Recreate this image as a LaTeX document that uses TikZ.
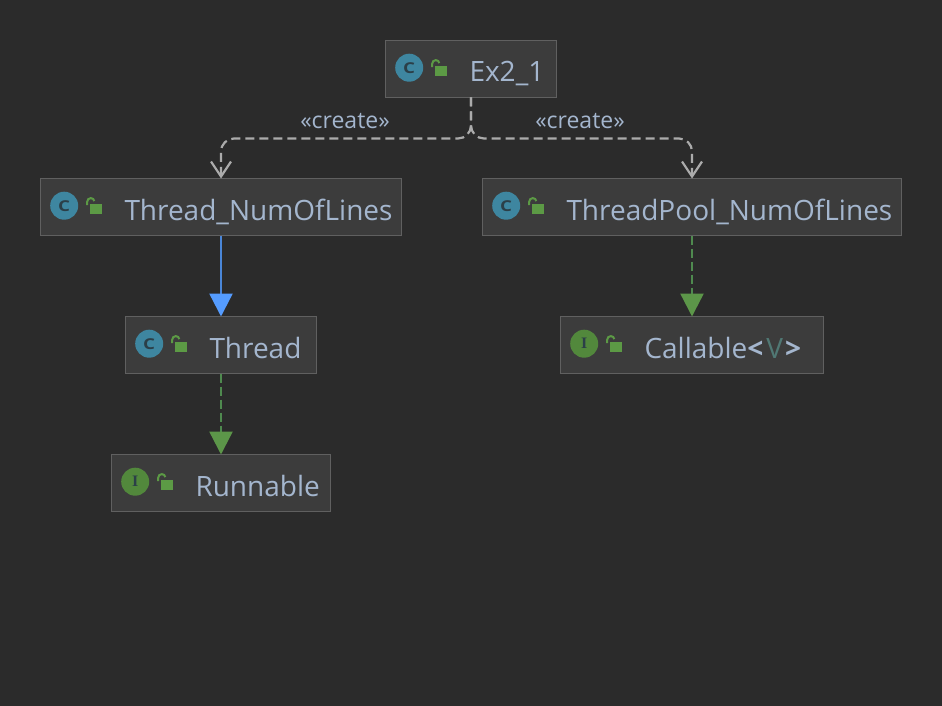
\documentclass[tikz,border=0pt]{standalone}
\usepackage{fontspec}
\setmainfont{Open Sans}
\newfontfamily\iconfont{Liberation Serif}
\usetikzlibrary{arrows.meta,positioning,calc}
\definecolor{bgcol}{HTML}{2B2B2B}
\definecolor{boxcol}{HTML}{3C3C3C}
\definecolor{edgecol}{HTML}{606060}
\definecolor{namecol}{HTML}{A4B6CE}
\definecolor{paramcol}{HTML}{507874}
\definecolor{classcol}{HTML}{3E86A0}
\definecolor{ifacecol}{HTML}{52883C}
\definecolor{lockcol}{HTML}{5C9A45}
\definecolor{glyphcol}{HTML}{2B3F48}
\definecolor{createcol}{HTML}{ABABAB}
\definecolor{bluecol}{HTML}{4A86D8}
\definecolor{bluetip}{HTML}{559CFF}
\definecolor{greencol}{HTML}{4F8A4F}
\definecolor{greentip}{HTML}{5C9649}
\tikzstyle{block}=[draw=edgecol,fill=boxcol,line width=1.5pt,outer sep=0pt,inner xsep=0pt,inner ysep=0pt,minimum height=57pt,align=left,text=namecol,text height=26pt,text depth=0pt,font=\fontsize{28}{30}\selectfont]
\tikzstyle{iconbase}=[circle,inner sep=0pt,minimum size=28pt,text=glyphcol]
\tikzstyle{classicon}=[iconbase,fill=classcol,font=\fontsize{15}{15}\selectfont\bfseries]
\tikzstyle{ifaceicon}=[iconbase,fill=ifacecol,font=\iconfont\fontsize{16}{16}\selectfont\bfseries]
\tikzstyle{stereo}=[text=namecol,inner sep=0pt,font=\fontsize{23}{25}\selectfont]
\tikzstyle{create}=[draw=createcol,line width=2.2pt,dash pattern=on 9pt off 5pt,rounded corners=13pt,-{Straight Barb[length=15pt,width=20pt,line width=2.2pt]}]
\tikzstyle{extends}=[draw=bluecol,line width=2.4pt,-{Triangle[length=23pt,width=23pt,color=bluetip]}]
\tikzstyle{implements}=[draw=greencol,line width=2.4pt,dash pattern=on 9pt off 4pt,-{Triangle[length=23pt,width=23pt,color=greentip]}]
% icon and open padlock at the left end of a box
\newcommand{\boxicon}[3]{
\node (#1icon) [#2,right=9.5pt of #1.west,yshift=1.3pt] {#3};
\fill[lockcol] ([xshift=25.3pt,yshift=1.7pt]#1icon.center) rectangle ++(12.7pt,-9.7pt);
\draw[lockcol,line width=2pt] ([xshift=23pt,yshift=0.5pt]#1icon.center) -- ++(0,3.5) arc (180:10:3.6pt);
}
\begin{document}
\begin{tikzpicture}[x=1pt,y=1pt,node distance=81pt]
\useasboundingbox[fill=bgcol] (0,0) rectangle (942,-706);
\node (ex) [block,text width=171pt] at (471,-69) {\hspace*{84pt}Ex2\_1};
\node (numlines) [block,text width=361pt,below=of ex,xshift=-250pt] {\hspace*{84pt}Thread\_NumOfLines};
\node (pool) [block,text width=419pt,below=of ex,xshift=221pt] {\hspace*{84pt}ThreadPool\_NumOfLines};
\node (thread) [block,text width=191pt,below=of numlines] {\hspace*{84pt}Thread};
\node (callable) [block,text width=263pt,below=of pool] {\hspace*{84pt}Callable{\bfseries<}\hspace{3pt}{\color{paramcol}V}\hspace{2pt}{\bfseries>}};
\node (runnable) [block,text width=219pt,below=of thread] {\hspace*{84pt}Runnable};
\boxicon{ex}{classicon}{\scalebox{1.25}[1]{C}}
\boxicon{numlines}{classicon}{\scalebox{1.25}[1]{C}}
\boxicon{pool}{classicon}{\scalebox{1.25}[1]{C}}
\boxicon{thread}{classicon}{\scalebox{1.25}[1]{C}}
\boxicon{callable}{ifaceicon}{I}
\boxicon{runnable}{ifaceicon}{I}
\coordinate (forkleft) at ($(numlines.north)+(0,40)$);
\coordinate (forkright) at ($(pool.north)+(0,40)$);
\draw[create] (ex.south) |- (forkleft) -- (numlines.north);
\draw[create] (ex.south) |- (forkright) -- (pool.north);
\node (createleft) [stereo] at ($(ex.south)+(-126,-24)$) {«create»};
\node (createright) [stereo] at ($(ex.south)+(109,-24)$) {«create»};
\draw[extends] (numlines) -- (thread);
\draw[implements] (thread) -- (runnable);
\draw[implements] (pool) -- (callable);
\end{tikzpicture}
\end{document}
